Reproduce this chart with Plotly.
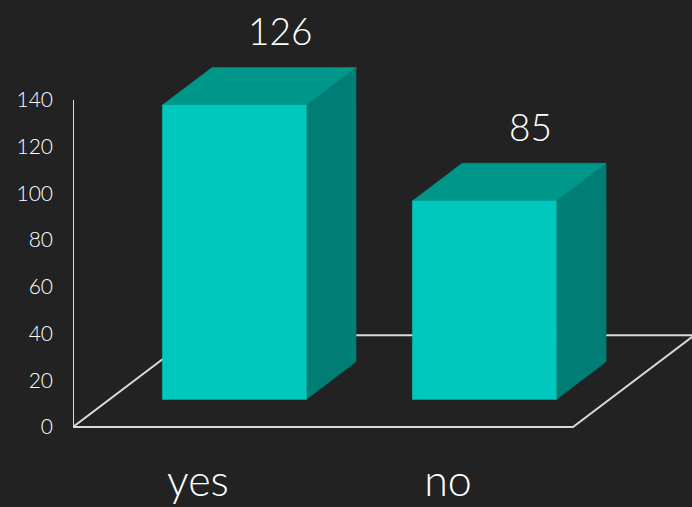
import plotly.graph_objects as go

categories = ["yes", "no"]
values = [126, 85]
y_ticks = [0, 20, 40, 60, 80, 100, 120, 140]

# 3D-look geometry in data units
DX, DY = 0.485, 39.3      # floor depth vector
T_FRONT, T_BACK = 0.30, 0.71
HALF_W = 0.288
BG = "#222222"
FRONT = "#00C8BF"
TOP = "#00978B"
SIDE = "#007E76"
LINE = "#D9D9D9"
FONT = "Lato"

fig = go.Figure()

def line(xs, ys):
    fig.add_trace(go.Scatter(x=xs, y=ys, mode="lines", line=dict(color=LINE, width=2),
                             hoverinfo="skip", showlegend=False))

n = len(categories)
# floor and axis
line([0, DX, n + DX], [0, DY, DY])
line([0, n, n + DX], [0, 0, DY])
line([0, 0], [0, y_ticks[-1]])

def poly(xs, ys, color):
    fig.add_trace(go.Scatter(x=xs + [xs[0]], y=ys + [ys[0]], mode="lines", fill="toself",
                             fillcolor=color, line=dict(color=color, width=0.5),
                             hoverinfo="skip", showlegend=False))

for i, v in enumerate(values):
    cx = i + 0.5
    fx0 = cx - HALF_W + T_FRONT * DX
    fx1 = cx + HALF_W + T_FRONT * DX
    fy0 = T_FRONT * DY
    bx_off = (T_BACK - T_FRONT) * DX
    by_off = (T_BACK - T_FRONT) * DY
    # side face
    poly([fx1, fx1 + bx_off, fx1 + bx_off, fx1],
         [fy0, fy0 + by_off, fy0 + v + by_off, fy0 + v], SIDE)
    # top face
    poly([fx0, fx1, fx1 + bx_off, fx0 + bx_off],
         [fy0 + v, fy0 + v, fy0 + v + by_off, fy0 + v + by_off], TOP)
    # front face
    poly([fx0, fx1, fx1, fx0], [fy0, fy0, fy0 + v, fy0 + v], FRONT)
    fig.add_annotation(x=cx + T_BACK * DX - 0.015, y=fy0 + v + by_off, text=str(v),
                       showarrow=False, yanchor="middle", yshift=37,
                       font=dict(family=FONT, size=37, color="#FFFFFF", weight=300))

W, H = 692, 507
ml, mb = 73, 60
xunit = 250.0
yunit = 2.336
plot_w = W - ml
plot_h = H - mb
y0 = -(447 - 427) / yunit

fig.update_layout(
    width=W, height=H,
    margin=dict(l=ml, r=0, t=0, b=mb),
    paper_bgcolor=BG, plot_bgcolor=BG,
    xaxis=dict(range=[0, plot_w / xunit], showgrid=False, zeroline=False, showline=False,
               tickvals=[i + 0.5 for i in range(n)], ticktext=categories,
               tickfont=dict(family=FONT, size=43, color="#FFFFFF", weight=300),
               ticks="", ticklabelstandoff=5),
    yaxis=dict(range=[y0, y0 + plot_h / yunit], showgrid=False, zeroline=False, showline=False,
               tickvals=y_ticks, ticks="", ticklabelstandoff=19,
               tickfont=dict(family=FONT, size=21, color="#FFFFFF", weight=300)),
    showlegend=False,
)

fig.write_html("out.html", config={"displayModeBar": False},
               post_script="document.body.style.margin='0';document.body.style.background='#222222';")
